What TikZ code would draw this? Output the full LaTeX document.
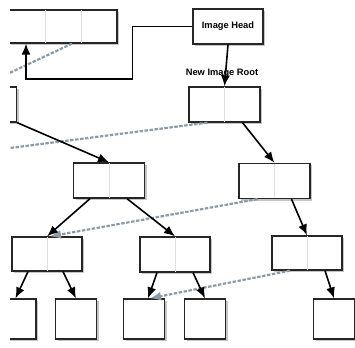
\documentclass[tikz,border=0pt]{standalone}
\usepackage{fontspec}
\setmainfont{Liberation Sans}
\usetikzlibrary{arrows.meta,shadows}
\definecolor{oldgrey}{RGB}{140,155,165}
\begin{document}
\begin{tikzpicture}[x=1pt,y=-1pt]

%%% Styles

\tikzstyle{cell}=[rectangle, draw=black!85, line width=1.3pt, fill=white, inner sep=0pt,
  drop shadow={shadow xshift=2pt, shadow yshift=-2pt, opacity=0.45}]
\tikzstyle{wide}=[cell, minimum width=71pt, minimum height=35pt]
\tikzstyle{leaf}=[cell, minimum width=41pt, minimum height=40pt]
\tikzstyle{link}=[line width=1.6pt, -{Latex[length=11pt,width=9pt]}]
\tikzstyle{old}=[line width=2.2pt, draw=oldgrey, dash pattern=on 3.5pt off 1.5pt,
  -{Latex[length=11pt,width=9pt,fill=oldgrey]}]
\tikzstyle{divider}=[black!12, line width=0.6pt, shorten <=0.7pt, shorten >=0.7pt]
\tikzstyle{caption}=[font=\bfseries\fontsize{9.3}{10}\selectfont]

\useasboundingbox (0,0) rectangle (355,347);
\clip (10,0) rectangle (355,347);

%%% Top row

\node (TL) [cell, minimum width=108pt, minimum height=33pt] at (63,26.5) {};
\node (Head) [cell, minimum width=70pt, minimum height=35pt, caption] at (228,26.5) {Image Head};

% Roots

\node (ML) [wide] at (-19,104.5) {};
\node (Root) [wide] at (224.5,104.5) {};
\node (RootLabel) [caption] at (222,73) {New Image Root};

% Second level

\node (B1) [wide] at (109,180.5) {};
\node (B2) [wide] at (274.5,181) {};

% Third level

\node (C1) [wide, minimum width=70pt, minimum height=34pt] at (47,254) {};
\node (C2) [wide, minimum width=70pt] at (175,254.5) {};
\node (C3) [wide, minimum width=70pt, minimum height=34pt] at (307,253) {};

% Leaves

\node (D1) [leaf] at (15.5,319) {};
\node (D2) [leaf] at (76,319) {};
\node (D3) [leaf] at (144,319) {};
\node (D4) [leaf] at (205,319) {};
\node (D5) [leaf] at (334,319) {};

% Cell dividers

\draw[divider] ([xshift=-18pt]TL.north) -- ([xshift=-18pt]TL.south);
\draw[divider] ([xshift=18pt]TL.north) -- ([xshift=18pt]TL.south);
\foreach \n in {ML,Root,B1,B2,C1,C2,C3}
  \draw[divider] (\n.north) -- (\n.south);

%%% Old links

\coordinate (OffLeft) at (-60,157);

\draw[old] ([xshift=9pt]TL.south) -- (ML.north);
\draw[old] ([xshift=-17pt]Root.south) -- (OffLeft);
\draw[old] ([xshift=-17pt]B2.south) -- ([xshift=3pt]C1.north);
\draw[old] ([xshift=-17pt]C3.south) -- ([xshift=6pt]D3.north);

%%% New links

\draw[link] (Head.west) -- ++(-60,0) -- ++(0,52.5) -| ([xshift=-37pt]TL.south);
\draw[link] (Head.south) -- (Root.north);
\draw[link] (ML.south east) -- (B1.north);
\draw[link] ([xshift=18pt]Root.south) -- (B2.north);

\draw[link] ([xshift=-19pt]B1.south) -- (C1.north);
\draw[link] ([xshift=18pt]B1.south) -- (C2.north);
\draw[link] ([xshift=17pt]B2.south) -- (C3.north);

\draw[link] ([xshift=-19pt]C1.south) -- (D1.north);
\draw[link] ([xshift=16pt]C1.south) -- (D2.north);
\draw[link] ([xshift=-18pt]C2.south) -- ([xshift=4pt]D3.north);
\draw[link] ([xshift=18pt]C2.south) -- (D4.north);
\draw[link] ([xshift=18pt]C3.south) -- (D5.north);

\end{tikzpicture}
\end{document}
